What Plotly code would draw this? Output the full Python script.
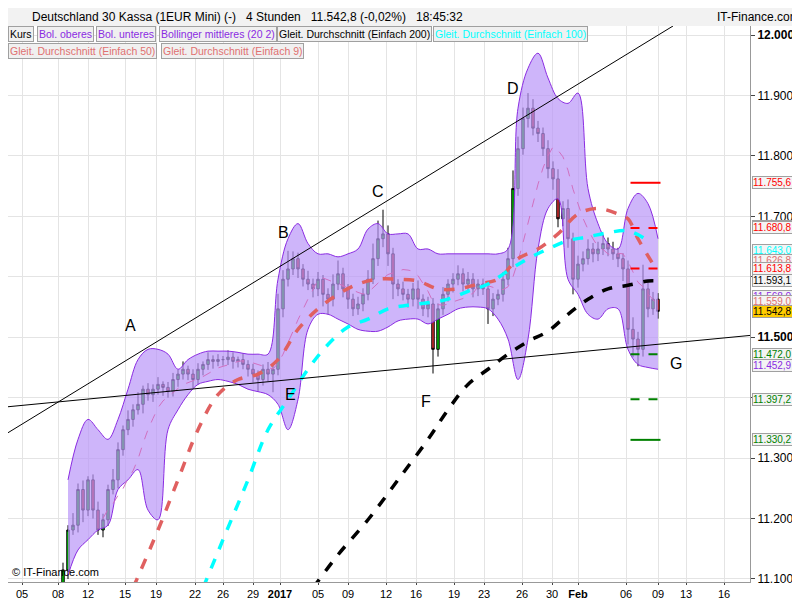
import plotly.graph_objects as go
import pandas as pd

# 4h closes (Dec 8 2016 .. Feb 9 2017)
closes = [11115, 11181, 11189, 11248, 11214, 11264, 11214, 11181, 11198, 11248,
          11264, 11314, 11347, 11364, 11380, 11389, 11414, 11405, 11414, 11422,
          11417, 11410, 11430, 11439, 11447, 11439, 11430, 11447, 11455, 11463,
          11460, 11463, 11463, 11467, 11460, 11463, 11455, 11447, 11439, 11430,
          11447, 11439, 11447, 11547, 11596, 11613, 11630, 11613, 11596, 11588,
          11580, 11596, 11571, 11563, 11588, 11605, 11580, 11563, 11547, 11555,
          11571, 11596, 11630, 11663, 11671, 11638, 11588, 11580, 11571, 11563,
          11580, 11563, 11547, 11555, 11480, 11547, 11571, 11588, 11596, 11605,
          11588, 11596, 11580, 11588, 11580, 11547, 11563, 11571, 11596, 11630,
          11746, 11812, 11862, 11879, 11846, 11837, 11812, 11779, 11762, 11696,
          11713, 11663, 11596, 11621, 11630, 11646, 11638, 11646, 11655, 11646,
          11638, 11630, 11613, 11513, 11497, 11480, 11580, 11547, 11563, 11542.8]
first_open = 11090
wick_up = [12, 8, 20, 10, 15, 6, 9, 14, 10, 8, 18, 12, 7, 15, 9, 20, 6, 10, 8, 12,
           5, 9, 11, 7, 13, 6, 8, 10, 5, 12, 7, 9, 6, 11, 8, 5, 10, 7, 9, 6,
           8, 12, 10, 25, 15, 30, 12, 10, 8, 14, 9, 12, 7, 10, 16, 22, 10, 8, 9, 12,
           10, 15, 25, 30, 40, 14, 10, 8, 12, 9, 10, 14, 8, 12, 10, 9, 12, 8, 10, 14,
           9, 12, 10, 8, 9, 12, 10, 8, 12, 18, 30, 20, 18, 25, 15, 12, 10, 14, 12, 16,
           12, 15, 10, 14, 12, 16, 10, 12, 14, 10, 12, 10, 9, 14, 20, 12, 40, 15, 12, 10]
wick_dn = [10, 15, 8, 12, 20, 10, 14, 8, 12, 10, 8, 14, 10, 9, 12, 8, 15, 10, 12, 9,
           14, 10, 8, 12, 9, 10, 14, 8, 10, 9, 12, 8, 10, 9, 12, 10, 8, 12, 14, 20,
           10, 12, 30, 10, 14, 12, 10, 15, 12, 10, 14, 12, 20, 25, 12, 10, 14, 16, 12, 10,
           12, 10, 8, 12, 14, 20, 25, 12, 10, 14, 12, 16, 12, 14, 40, 12, 10, 12, 14, 10,
           12, 10, 14, 12, 10, 25, 12, 10, 12, 10, 14, 12, 10, 15, 12, 14, 12, 16, 18, 14,
           12, 15, 25, 14, 12, 10, 14, 12, 10, 12, 10, 14, 20, 25, 30, 28, 12, 14, 10, 12]

# Bollinger bands (20,2), every second bar
band_upper = [11264, 11331, 11364, 11347, 11331, 11364, 11414, 11463, 11480, 11480,
              11472, 11447, 11463, 11472, 11477, 11477, 11477, 11475, 11472, 11472,
              11472, 11596, 11663, 11688, 11655, 11638, 11638, 11633, 11638, 11646,
              11679, 11688, 11671, 11671, 11671, 11646, 11646, 11638, 11638, 11638,
              11638, 11638, 11638, 11638, 11646, 11879, 11945, 11970, 11929, 11895,
              11887, 11904, 11746, 11688, 11655, 11646, 11713, 11738, 11721, 11663]
band_lower = [11106, 11148, 11165, 11181, 11189, 11248, 11264, 11281, 11214, 11198,
              11347, 11380, 11405, 11422, 11427, 11430, 11427, 11422, 11414, 11410,
              11405, 11389, 11347, 11397, 11513, 11538, 11538, 11530, 11522, 11513,
              11510, 11510, 11517, 11527, 11530, 11530, 11522, 11530, 11538, 11547,
              11550, 11550, 11547, 11530, 11497, 11430, 11497, 11646, 11713, 11729,
              11596, 11571, 11538, 11530, 11547, 11547, 11480, 11455, 11450, 11447]

ma200_idx = [50, 55, 61, 67, 73, 77, 81, 85, 89, 93, 97, 101, 105, 109, 113, 117, 119]
ma200 = [11085, 11140, 11198, 11264, 11331, 11380, 11422, 11447, 11472, 11493,
         11510, 11538, 11563, 11580, 11586, 11593, 11593]
ma100_idx = [28, 32, 37, 41, 45, 49, 53, 57, 61, 65, 69, 73, 77, 81, 85, 89, 93, 97,
             101, 105, 109, 113, 117]
ma100 = [11085, 11165, 11264, 11347, 11397, 11447, 11488, 11517, 11530, 11547, 11553,
         11557, 11563, 11576, 11588, 11610, 11630, 11646, 11660, 11666, 11673, 11676, 11660]
ma50_idx = [14, 19, 23, 27, 31, 35, 39, 43, 47, 51, 55, 59, 63, 67, 71, 75, 79, 83,
            87, 91, 95, 99, 103, 107, 111, 113, 115, 118]
ma50 = [11085, 11181, 11264, 11347, 11405, 11430, 11439, 11463, 11513, 11547, 11571,
        11588, 11596, 11596, 11593, 11580, 11580, 11588, 11596, 11630, 11646, 11671,
        11704, 11713, 11704, 11696, 11663, 11621]

tick_pos = [-8.2, -1, 5, 12.4, 18.6, 26.4, 32, 38, 43.4, 51, 57, 64.6, 70.6, 78.2,
            84.2, 91.8, 97.8, 103, 112.6, 119, 124.6, 132.2]
tick_text = ["05", "08", "12", "15", "19", "22", "26", "29", "<b>2017</b>", "05", "09",
             "12", "16", "19", "23", "26", "30", "<b>Feb</b>", "06", "09", "13", "16"]

levels = [11755.6, 11680.8, 11613.8, 11472.0, 11397.2, 11330.2]
level_colors = ["red", "red", "red", "green", "green", "green"]
level_dash = ["solid", "dash", "dash", "dash", "dash", "solid"]

price_labels = [(11755.6, "red"), (11683.1, "#8a2be2"), (11680.8, "red"), (11643.0, "cyan"),
                (11626.8, "#e07070"), (11613.8, "red"), (11593.1, "black"), (11568.0, "#8a2be2"),
                (11559.0, "#e07070"), (11472.0, "green"), (11452.9, "#8a2be2"),
                (11397.2, "green"), (11330.2, "green")]

letters = [("A", 13.5, 11520), ("B", 44, 11673), ("C", 63, 11741), ("D", 90, 11912),
           ("E", 45.4, 11405), ("F", 72.6, 11394), ("G", 122.6, 11457)]

idx = list(range(len(closes)))
opens = [first_open] + closes[:-1]
highs = [max(o, c) + w for o, c, w in zip(opens, closes, wick_up)]
lows = [min(o, c) - w for o, c, w in zip(opens, closes, wick_dn)]
band_idx = idx[1::2]
ma9 = pd.Series(closes).rolling(9).mean()

fig = go.Figure()
fig.add_trace(go.Scatter(x=band_idx, y=band_upper, mode="lines", line=dict(color="#8a2be2", width=1, shape="spline")))
fig.add_trace(go.Scatter(x=band_idx, y=band_lower, mode="lines", fill="tonexty", fillcolor="rgba(185,150,248,0.7)",
                         line=dict(color="#8a2be2", width=1, shape="spline")))
fig.add_trace(go.Scatter(x=idx, y=ma9, mode="lines", line=dict(color="#d070c0", width=1, dash="dash")))
fig.add_trace(go.Scatter(x=ma50_idx, y=ma50, mode="lines", line=dict(color="#e06060", width=3.5, dash="dash", shape="spline")))
fig.add_trace(go.Scatter(x=ma100_idx, y=ma100, mode="lines", line=dict(color="cyan", width=3.5, dash="dash", shape="spline")))
fig.add_trace(go.Scatter(x=ma200_idx, y=ma200, mode="lines", line=dict(color="black", width=3.5, dash="dash", shape="spline")))
fig.add_trace(go.Candlestick(x=idx, open=opens, high=highs, low=lows, close=closes, whiskerwidth=0,
                             increasing=dict(line=dict(color="black", width=1), fillcolor="#00c800"),
                             decreasing=dict(line=dict(color="black", width=1), fillcolor="#e03030")))

for lv, c, d in zip(levels, level_colors, level_dash):
    fig.add_shape(type="line", x0=113.5, x1=119.5, y0=lv, y1=lv, line=dict(color=c, width=2, dash=d))

# trend lines
fig.add_shape(type="line", x0=-11, y0=11342, x1=122, y1=12015, line=dict(color="black", width=1))
fig.add_shape(type="line", x0=-11, y0=11385, x1=137.4, y1=11503, line=dict(color="black", width=1))

for t, x, y in letters:
    fig.add_annotation(x=x, y=y, text=t, showarrow=False, font=dict(size=16, color="black"))

for p, c in price_labels:
    txt = f"{p:,.1f}".replace(",", "X").replace(".", ",").replace("X", ".")
    fig.add_annotation(xref="paper", x=1.0, xshift=2, y=p, xanchor="left", text=txt, showarrow=False,
                       font=dict(size=10, color=c), bgcolor="#f4f4f4", bordercolor="#a0a0a0",
                       borderwidth=1, borderpad=0)
fig.add_annotation(xref="paper", x=1.0, xshift=2, y=11542.8, xanchor="left", text="11.542,8", showarrow=False,
                   font=dict(size=10, color="black"), bgcolor="#ffcc00", bordercolor="#a0a0a0",
                   borderwidth=1, borderpad=0)

# header
fig.add_shape(type="rect", xref="paper", yref="paper", x0=-0.01, x1=1.1, y0=1.0, y1=1.04,
              fillcolor="#f2f2f2", line=dict(width=0), layer="below")
fig.add_annotation(xref="paper", yref="paper", x=0.03, y=1.0, xanchor="left", yanchor="bottom", showarrow=False,
                   text="Deutschland 30 Kassa (1EUR Mini) (-)   4 Stunden   11.542,8 (-0,02%)   18:45:32",
                   font=dict(size=12, color="black"))
fig.add_annotation(xref="paper", yref="paper", x=1.07, y=1.0, xanchor="right", yanchor="bottom", showarrow=False,
                   text="IT-Finance.com", font=dict(size=12, color="black"))
fig.add_annotation(xref="paper", yref="paper", x=0.003, y=0.003, xanchor="left", yanchor="bottom", showarrow=False,
                   text="© IT-Finance.com", font=dict(size=11, color="black"))

buttons_row1 = [("Kurs", "black"), ("Bol. oberes", "#8a2be2"), ("Bol. unteres", "#8a2be2"),
                ("Bollinger mittleres (20 2)", "#8a2be2"), ("Gleit. Durchschnitt (Einfach 200)", "black"),
                ("Gleit. Durchschnitt (Einfach 100)", "cyan")]
buttons_row2 = [("Gleit. Durchschnitt (Einfach 50)", "#e07070"), ("Gleit. Durchschnitt (Einfach 9)", "#e07070")]
x_row1 = [0.0, 0.039, 0.119, 0.204, 0.363, 0.573]
x_row2 = [0.0, 0.206]
for (t, c), x in zip(buttons_row1, x_row1):
    fig.add_annotation(xref="paper", yref="paper", x=x, y=0.985, xanchor="left", yanchor="middle", text=t,
                       showarrow=False, font=dict(size=10.5, color=c), bgcolor="#f0f0f0",
                       bordercolor="#a0a0a0", borderwidth=1, borderpad=1)
for (t, c), x in zip(buttons_row2, x_row2):
    fig.add_annotation(xref="paper", yref="paper", x=x, y=0.955, xanchor="left", yanchor="middle", text=t,
                       showarrow=False, font=dict(size=10.5, color=c), bgcolor="#f0f0f0",
                       bordercolor="#a0a0a0", borderwidth=1, borderpad=1)

y_ticks = [11100, 11200, 11300, 11400, 11500, 11600, 11700, 11800, 11900, 12000]
y_text = ["11.100", "11.200", "11.300", "11.400", "<b>11.500</b>", "11.600", "11.700", "11.800", "11.900", "<b>12.000</b>"]

fig.update_layout(
    width=800, height=600, margin=dict(l=0, r=58, t=18, b=26),
    paper_bgcolor="white", plot_bgcolor="white", showlegend=False,
    font=dict(family="Liberation Sans, Arial", size=11, color="black"),
    xaxis=dict(range=[-11, 137.4], tickvals=tick_pos, ticktext=tick_text, showgrid=True,
               gridcolor="#e4e4e4", rangeslider=dict(visible=False), ticks="outside", ticklen=2,
               showline=True, linecolor="#999", zeroline=False),
    yaxis=dict(range=[11095, 12015], side="right", tickvals=y_ticks, ticktext=y_text, showgrid=True,
               gridcolor="#e4e4e4", ticks="outside", ticklen=4, showline=True, linecolor="#999",
               zeroline=False, tickfont=dict(size=12)),
)
fig.write_html("out.html")
